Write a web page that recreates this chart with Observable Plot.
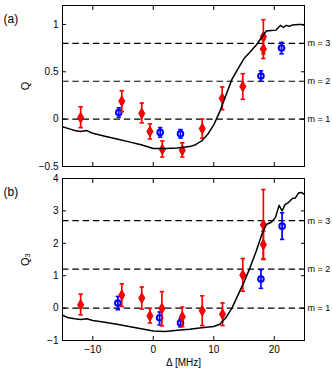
<!DOCTYPE html>
<html>
<head>
<meta charset="utf-8">
<script src="https://cdn.jsdelivr.net/npm/d3@7"></script>
<script src="https://cdn.jsdelivr.net/npm/@observablehq/plot@0.6"></script>
<style>
  html, body { margin: 0; padding: 0; background: #fff; }
  #wrap { position: relative; width: 332px; height: 372px; font-family: "Liberation Sans", Arial, sans-serif; }
  #wrap svg { position: absolute; left: 0; overflow: visible; }
</style>
</head>
<body>
<div id="wrap"></div>
<script>
// ---------- data ----------
const xTicks = [-10, 0, 10, 20];
const yTicksA = [-0.5, 0, 0.5, 1];
const yTicksB = [-1, 0, 1, 2, 3, 4];
const levelsA = [0, 0.4, 0.8];
const levelsB = [0, 1.2, 2.7];
const levelLabels = ["m = 1", "m = 2", "m = 3"];

// theory curve, panel (a)
const curveAX = [-15, -14, -13, -12, -11, -10, -8, -6, -4, -2, 0, 2, 4, 6, 7, 8, 9, 10, 11, 12, 13, 14, 15, 16, 17, 18, 18.7, 19.5, 20.3, 21, 21.5, 22, 22.5, 23, 24, 24.5, 25];
const curveAY = [-0.08, -0.10, -0.12, -0.13, -0.12, -0.15, -0.18, -0.21, -0.24, -0.27, -0.31, -0.31, -0.305, -0.29, -0.27, -0.23, -0.16, -0.06, 0.08, 0.25, 0.42, 0.53, 0.64, 0.71, 0.78, 0.87, 0.93, 0.935, 0.94, 0.99, 0.97, 0.99, 0.98, 0.995, 1.0, 1.0, 0.99];
// theory curve, panel (b)
const curveBX = [-15, -14, -13, -12, -11, -10, -8, -6, -4, -2, 0, 2, 4, 6, 8, 10, 11, 12, 13, 14, 15, 16, 17, 18, 18.7, 19.5, 20.2, 20.8, 21.3, 21.8, 22.3, 23, 23.5, 24, 24.5, 25];
const curveBY = [-0.22, -0.30, -0.33, -0.35, -0.33, -0.38, -0.44, -0.50, -0.57, -0.64, -0.71, -0.72, -0.68, -0.65, -0.61, -0.57, -0.50, -0.30, 0.00, 0.40, 0.80, 1.25, 1.75, 2.30, 2.58, 2.65, 2.80, 3.17, 3.00, 3.20, 3.25, 3.38, 3.40, 3.55, 3.57, 3.50];

// red diamonds, panel (a)
const redAX  = [-12.0, -5.2, -1.9, -0.55, 1.5, 4.8, 8.1, 11.4, 14.8, 18.2, 18.2];
const redAY  = [0.015, 0.19, 0.06, -0.13, -0.32, -0.33, -0.10, 0.22, 0.345, 0.87, 0.74];
const redALo = [-0.09, 0.08, -0.04, -0.21, -0.40, -0.40, -0.20, 0.10, 0.21, 0.69, 0.64];
const redAHi = [0.13, 0.30, 0.17, -0.05, -0.23, -0.25, 0.00, 0.34, 0.48, 1.05, 0.84];
// blue circles, panel (a)
const blueAX  = [-5.7, 1.15, 4.5, 17.8, 21.2];
const blueAY  = [0.07, -0.14, -0.155, 0.455, 0.75];
const blueALo = [0.02, -0.19, -0.20, 0.40, 0.69];
const blueAHi = [0.12, -0.09, -0.11, 0.51, 0.81];

// red diamonds, panel (b)
const redBX  = [-12.0, -5.2, -1.9, -0.55, 1.43, 4.8, 8.1, 11.45, 14.8, 18.2, 18.2];
const redBY  = [0.10, 0.40, 0.31, -0.24, -0.01, -0.27, -0.08, -0.19, 1.02, 2.57, 1.96];
const redBLo = [-0.21, 0.05, -0.03, -0.46, -0.55, -0.57, -0.54, -0.54, 0.52, 1.50, 1.52];
const redBHi = [0.43, 0.75, 0.65, -0.01, 0.51, 0.03, 0.38, 0.16, 1.53, 3.66, 2.38];
// blue circles, panel (b)
const blueBX  = [-5.85, 1.05, 4.5, 17.8, 21.3];
const blueBY  = [0.155, -0.30, -0.46, 0.90, 2.53];
const blueBLo = [-0.05, -0.52, -0.58, 0.61, 2.12];
const blueBHi = [0.36, -0.12, -0.34, 1.19, 2.94];

// ---------- helpers ----------
const toRows = (xs, ys, lo, hi) => xs.map((x, i) => ({x, y: ys ? ys[i] : undefined, lo: lo ? lo[i] : undefined, hi: hi ? hi[i] : undefined}));
const fmt = d => String(d).replace("-", "\u2212");
const capSymbol = { draw(ctx, size) { const r = 2.2; ctx.moveTo(-r, 0); ctx.lineTo(r, 0); } };
const FONT = "Liberation Sans, Arial, sans-serif";

function panel({ydomain, yticks, levels, curveX, curveY, red, blue, showX, yLabel, tag, height, marginTop, marginBottom}) {
  const curve = toRows(curveX, curveY);
  const levelRows = levels.map((v, i) => ({y: v, label: levelLabels[i]}));
  const err = (rows, color) => [
    Plot.ruleX(rows, {x: "x", y1: "lo", y2: "hi", stroke: color, strokeWidth: 1.7}),
    Plot.dot(rows, {x: "x", y: "lo", symbol: capSymbol, r: 3, stroke: color, strokeWidth: 1.6}),
    Plot.dot(rows, {x: "x", y: "hi", symbol: capSymbol, r: 3, stroke: color, strokeWidth: 1.6})
  ];
  const marks = [
    Plot.ruleY(levelRows, {y: "y", stroke: "#000", strokeWidth: 1.2, strokeDasharray: "6.5,3.8"}),
    Plot.text(levelRows, {y: "y", text: "label", frameAnchor: "right", dx: 3, textAnchor: "start", fontSize: 9}),
    ...err(blue, "#0000ff"),
    Plot.dot(blue, {x: "x", y: "y", r: 2.8, stroke: "#0000ff", strokeWidth: 2, fill: "none"}),
    ...err(red, "#ff0000"),
    Plot.dot(red, {x: "x", y: "y", symbol: "diamond", r: 3.2, fill: "#ff0000", stroke: "#e00000", strokeWidth: 1}),
    Plot.line(curve, {x: "x", y: "y", stroke: "#000", strokeWidth: 1.5}),
    Plot.frame({stroke: "#000", strokeWidth: 1}),
    Plot.axisX({ticks: xTicks, tickSize: -4, tickFormat: () => "", anchor: "bottom", label: null}),
    Plot.axisX({ticks: xTicks, tickSize: -4, tickFormat: () => "", anchor: "top", label: null}),
    Plot.axisY({ticks: yticks, tickSize: -4, tickFormat: () => "", anchor: "left", label: null}),
    Plot.axisY({ticks: yticks, tickSize: -4, tickFormat: () => "", anchor: "right", label: null}),
    Plot.axisY({ticks: yticks, tickSize: 0, tickPadding: 4, tickFormat: fmt, anchor: "left", label: null, fontSize: 10}),
    Plot.text([yLabel], {text: d => d, frameAnchor: "left", textAnchor: "middle", dx: -37, rotate: -90, fontSize: 11}),
    Plot.text([tag], {text: d => d, frameAnchor: "top-left", textAnchor: "start", dx: -59, dy: 9, fontSize: 12})
  ];
  if (showX) {
    marks.push(Plot.axisX({ticks: xTicks, tickSize: 0, tickPadding: 5, tickFormat: fmt, anchor: "bottom", label: null, fontSize: 10}));
    marks.push(Plot.text(["\u0394 [MHz]"], {text: d => d, frameAnchor: "bottom", dy: 25, fontSize: 10}));
  }
  return Plot.plot({
    width: 332, height, marginLeft: 62, marginRight: 28, marginTop, marginBottom,
    style: {fontFamily: FONT, fontSize: "10px", color: "#000", background: "transparent", overflow: "visible"},
    x: {domain: [-15, 25], axis: null},
    y: {domain: ydomain, axis: null},
    marks
  });
}

const wrap = document.getElementById("wrap");
const a = panel({
  ydomain: [-0.5, 1.2], yticks: yTicksA, levels: levelsA, curveX: curveAX, curveY: curveAY,
  red: toRows(redAX, redAY, redALo, redAHi), blue: toRows(blueAX, blueAY, blueALo, blueAHi),
  showX: false, yLabel: "Q", tag: "(a)", height: 170, marginTop: 5, marginBottom: 4
});
a.style.top = "0px";
wrap.appendChild(a);
const b = panel({
  ydomain: [-1, 4], yticks: yTicksB, levels: levelsB, curveX: curveBX, curveY: curveBY,
  red: toRows(redBX, redBY, redBLo, redBHi), blue: toRows(blueBX, blueBY, blueBLo, blueBHi),
  showX: true, yLabel: "Q\u2083", tag: "(b)", height: 202, marginTop: 8, marginBottom: 32
});
b.style.top = "170px";
wrap.appendChild(b);
</script>
</body>
</html>
